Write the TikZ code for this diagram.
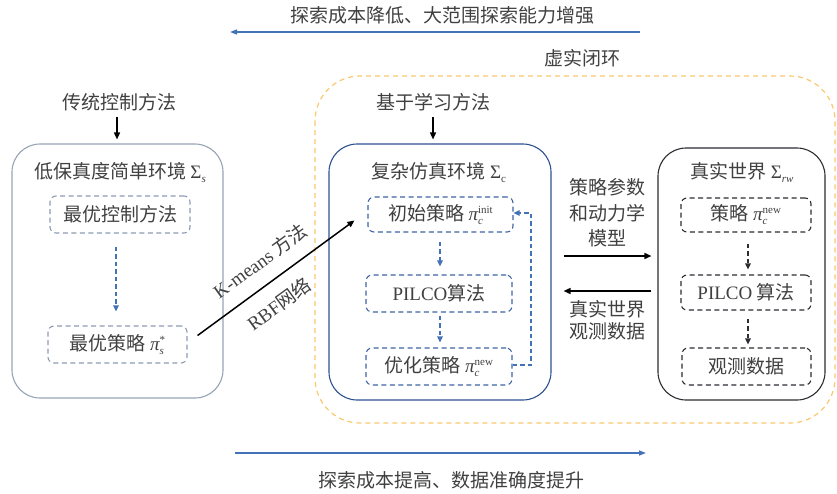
\documentclass[tikz,border=0pt]{standalone}
\usepackage{fontspec}
\setmainfont{Liberation Serif}
\newfontfamily\cjk{Noto Sans CJK SC}
\usetikzlibrary{arrows.meta,calc}
\definecolor{txt}{RGB}{64,64,64}
\definecolor{blueA}{RGB}{68,114,184}
\definecolor{lgray}{RGB}{150,163,180}
\definecolor{ldash}{RGB}{140,155,180}
\definecolor{mblue}{RGB}{45,80,145}
\definecolor{mdash}{RGB}{60,100,165}
\definecolor{rblack}{RGB}{45,45,50}
\definecolor{orng}{RGB}{250,200,110}
\newcommand\smallf{\fontsize{11}{11}\selectfont}
\newcommand\pis[2]{{\rmfamily\itshape π}\rlap{\raisebox{-4pt}{\smallf\rmfamily\itshape #1}}\raisebox{7pt}{\smallf\rmfamily #2}}
\newcommand\sig[1]{{\rmfamily Σ}\raisebox{-4pt}{\smallf\rmfamily\itshape #1}}
\newcommand\lat[1]{{\rmfamily #1}}
\begin{document}
\begin{tikzpicture}[x=1pt,y=-1pt,
  font=\cjk\fontsize{19}{24}\selectfont, text=txt,
  bigbox/.style={rounded corners=28pt, line width=1.1pt, minimum width=#1, inner sep=0pt},
  inbox/.style={rounded corners=6pt, line width=1.1pt, dash pattern=on 5pt off 3.5pt, inner sep=0pt},
  arr/.style={-{Triangle[length=7pt,width=6pt]}, line width=1.5pt, draw=black},
  darr/.style={-{Triangle[length=6pt,width=5.5pt]}, line width=1.5pt, dash pattern=on 4.5pt off 3pt},
  barr/.style={-{Triangle[length=7pt,width=5pt]}, line width=1.4pt, draw=blueA},
  lab/.style={inner sep=0pt, align=center}
]
\useasboundingbox (0,0) rectangle (837,493);

% top / bottom
\node[lab] (toptxt) at (442,15) {探索成本降低、大范围探索能力增强};
\coordinate (ta) at (640,32);
\coordinate (tb) at (230,32);
\draw[barr] (ta) -- (tb);
\node[lab] (vr) at (582,58) {虚实闭环};
\coordinate (ba) at (235,453);
\coordinate (bb) at (646,453);
\draw[barr] (ba) -- (bb);
\node[lab] (bottxt) at (451,480) {探索成本提高、数据准确度提升};

% orange loop
\draw[orng, line width=1.2pt, dash pattern=on 5pt off 4pt, rounded corners=45pt] (315,76) rectangle (835,423);

% headers
\node[lab] (trad) at (119,102) {传统控制方法};
\node[lab] (learn) at (433,102) {基于学习方法};

% left box
\node[bigbox=211pt, draw=lgray, minimum height=254pt] (L) at (117.5,271) {};
\node[lab] (Lt) at (120,173) {低保真度简单环境 \sig{s}};
\node[inbox, draw=ldash, minimum width=140pt, minimum height=37pt] (L1) at (120,214.5) {最优控制方法};
\node[inbox, draw=ldash, minimum width=139pt, minimum height=37pt] (L2) at (117.5,344.5) {最优策略 \pis{s}{*}};
\draw[darr, draw=blueA] ([yshift=-13pt]L1.south -| 116,0) -- ([yshift=14pt]L2.north -| 116,0);

% middle box
\node[bigbox=222pt, draw=mblue, minimum height=256pt] (M) at (440,272) {};
\node[lab] (Mt) at (439,173) {复杂仿真环境 \sig{\upshape c}};
\node[inbox, draw=mdash, minimum width=145pt, minimum height=35pt] (C1) at (440.5,214.5) {初始策略 \pis{c}{init}};
\node[inbox, draw=mdash, minimum width=146pt, minimum height=37pt] (C2) at (439,293.5) {\lat{PILCO}算法};
\node[inbox, draw=mdash, minimum width=146pt, minimum height=37pt] (C3) at (439,366.5) {优化策略 \pis{c}{new}};
\draw[darr, draw=blueA] ([yshift=-9pt]C1.south -| 440,0) -- ([yshift=8pt]C2.north -| 440,0);
\draw[darr, draw=blueA] ([yshift=-3pt]C2.south -| 440,0) -- ([yshift=5pt]C3.north -| 440,0);
\draw[darr, draw=blueA] (C3.east |- 0,365) -| (531,213) -- (C1.east |- 0,213);

% right box
\node[bigbox=167pt, draw=rblack, minimum height=252pt] (R) at (741.5,274) {};
\node[lab] (Rt) at (742,173) {真实世界 \sig{rw}};
\node[inbox, draw=rblack, minimum width=130pt, minimum height=34pt] (R1) at (746,215) {策略 \pis{c}{new}};
\node[inbox, draw=rblack, minimum width=130pt, minimum height=35pt] (R2) at (746,292.5) {\lat{PILCO} 算法};
\node[inbox, draw=rblack, minimum width=129pt, minimum height=37pt] (R3) at (746.5,366.5) {观测数据};
\draw[darr, draw=rblack] ([yshift=-11pt]R1.south -| 748,0) -- ([yshift=5pt]R2.north -| 748,0);
\draw[darr, draw=rblack] ([yshift=-8pt]R2.south -| 748,0) -- ([yshift=3pt]R3.north -| 748,0);

% headers arrows
\draw[arr] ([yshift=-6pt]trad.south -| 117,0) -- ([yshift=4pt]L.north -| 117,0);
\draw[arr] ([yshift=-6pt]learn.south -| 433,0) -- ([yshift=4pt]M.north -| 433,0);

% middle <-> right
\draw[arr] ([xshift=12pt]M.east |- 0,256) -- ([xshift=-6pt]R.west |- 0,256);
\draw[arr] ([xshift=-6pt]R.west |- 0,291) -- ([xshift=12pt]M.east |- 0,291);
\node[lab, font=\cjk\fontsize{19}{25.5}\selectfont] (p1) at (607,213) {策略参数\\和动力学\\模型};
\node[lab, font=\cjk\fontsize{19}{22}\selectfont] (p2) at (607,320) {真实世界\\观测数据};

% diagonal
\draw[arr] ([shift={(10,-9)}]L2.east) -- ([shift={(-13,6)}]C1.west);
\node[lab, rotate=36] (km) at (260,261) {\lat{K-means} 方法};
\node[lab, rotate=36] (rbf) at (279,304) {\lat{RBF}网络};
\end{tikzpicture}
\end{document}
